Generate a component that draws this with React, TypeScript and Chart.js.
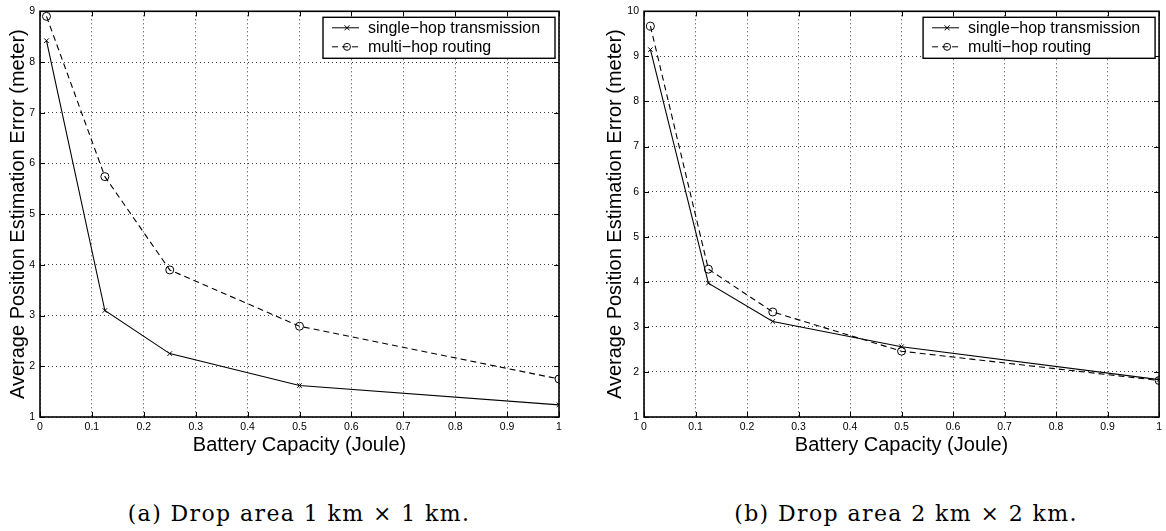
import React, { useEffect, useRef } from "react";
import { Chart, registerables } from "chart.js";

Chart.register(...registerables);

// ---------- data ----------
const batteryCapacity = [0.0125, 0.125, 0.25, 0.5, 1];
const singleHopA = [8.42, 3.1, 2.25, 1.62, 1.24];
const multiHopA = [8.9, 5.74, 3.9, 2.79, 1.75];
const singleHopB = [9.15, 3.97, 3.12, 2.56, 1.83];
const multiHopB = [9.67, 4.28, 3.33, 2.46, 1.81];

const xTicks = [0, 0.1, 0.2, 0.3, 0.4, 0.5, 0.6, 0.7, 0.8, 0.9, 1];
const yTicksA = [1, 2, 3, 4, 5, 6, 7, 8, 9];
const yTicksB = [1, 2, 3, 4, 5, 6, 7, 8, 9, 10];

const seriesLabels = ["single\u2212hop transmission", "multi\u2212hop routing"];
const xTitle = "Battery Capacity (Joule)";
const yTitle = "Average Position Estimation Error (meter)";
const captions = ["(a) Drop area 1 km \u00d7 1 km.", "(b) Drop area 2 km \u00d7 2 km."];

const SANS = "'Liberation Sans', Arial, Helvetica, sans-serif";

// draws the MATLAB-style box, inward ticks and the boxed legend
const matlabPlugin = {
  id: "matlabBox",
  afterDraw(chart: any) {
    const { ctx, chartArea } = chart;
    const { left, right, top, bottom } = chartArea;
    const xs = chart.scales.x;
    const ys = chart.scales.y;
    ctx.save();
    ctx.strokeStyle = "#000";
    ctx.lineWidth = 1;
    ctx.setLineDash([]);
    ctx.beginPath();
    xs.ticks.forEach((t: any) => {
      const px = Math.round(xs.getPixelForValue(t.value)) + 0.5;
      ctx.moveTo(px, bottom);
      ctx.lineTo(px, bottom - 5);
      ctx.moveTo(px, top);
      ctx.lineTo(px, top + 5);
    });
    ys.ticks.forEach((t: any) => {
      const py = Math.round(ys.getPixelForValue(t.value)) + 0.5;
      ctx.moveTo(left, py);
      ctx.lineTo(left + 5, py);
      ctx.moveTo(right, py);
      ctx.lineTo(right - 5, py);
    });
    ctx.stroke();
    ctx.lineWidth = 1.6;
    ctx.strokeRect(left, top, right - left, bottom - top);

    // legend
    const boxW = 232;
    const boxH = 41;
    const bx = right - 4 - boxW;
    const by = top + 6;
    ctx.fillStyle = "#fff";
    ctx.fillRect(bx, by, boxW, boxH);
    ctx.lineWidth = 1.4;
    ctx.strokeRect(bx, by, boxW, boxH);
    ctx.font = `16px ${SANS}`;
    ctx.textBaseline = "middle";
    ctx.textAlign = "left";
    chart.data.datasets.forEach((ds: any, i: number) => {
      const cy = by + 10.5 + i * 19;
      ctx.strokeStyle = "#000";
      ctx.lineWidth = 1;
      ctx.setLineDash(ds.borderDash || []);
      ctx.beginPath();
      ctx.moveTo(bx + 9, cy);
      ctx.lineTo(bx + 36, cy);
      ctx.stroke();
      ctx.setLineDash([]);
      const mx = bx + 24;
      ctx.beginPath();
      if (ds.pointStyle === "crossRot") {
        const r = 2.5;
        ctx.moveTo(mx - r, cy - r);
        ctx.lineTo(mx + r, cy + r);
        ctx.moveTo(mx - r, cy + r);
        ctx.lineTo(mx + r, cy - r);
      } else {
        ctx.arc(mx, cy, 3.5, 0, Math.PI * 2);
      }
      ctx.stroke();
      ctx.fillStyle = "#000";
      ctx.fillText(ds.label, bx + 45, cy + 0.5);
    });
    ctx.restore();
  },
};

function makeConfig(
  single: number[],
  multi: number[],
  yTicks: number[],
  yAxisWidth: number,
  yTitlePad: number,
  rightPad: number
): any {
  const tickFont = { family: SANS, size: 10.5 };
  const titleFont = { family: SANS, size: 20 };
  return {
    type: "line",
    data: {
      datasets: [
        {
          label: seriesLabels[0],
          data: batteryCapacity.map((x, i) => ({ x, y: single[i] })),
          borderColor: "#000",
          borderWidth: 1.1,
          pointStyle: "crossRot",
          pointRadius: 3.2,
          pointBorderColor: "#000",
          pointBackgroundColor: "#000",
          pointBorderWidth: 1,
          tension: 0,
          fill: false,
        },
        {
          label: seriesLabels[1],
          data: batteryCapacity.map((x, i) => ({ x, y: multi[i] })),
          borderColor: "#000",
          borderWidth: 1.1,
          borderDash: [6, 4],
          pointStyle: "circle",
          pointRadius: 4,
          pointBorderColor: "#000",
          pointBackgroundColor: "rgba(255,255,255,0)",
          pointBorderWidth: 1,
          tension: 0,
          fill: false,
        },
      ],
    },
    options: {
      responsive: false,
      animation: false,
      layout: { padding: { top: 8, right: rightPad, left: 0, bottom: 0 } },
      plugins: { legend: { display: false }, tooltip: { enabled: false } },
      scales: {
        x: {
          type: "linear",
          min: 0,
          max: 1,
          afterBuildTicks: (s: any) => {
            s.ticks = xTicks.map((v) => ({ value: v }));
          },
          afterFit: (s: any) => {
            s.height = 43;
          },
          ticks: {
            callback: (v: any) => String(v),
            font: tickFont,
            color: "#000",
            padding: 4,
            maxRotation: 0,
            autoSkip: false,
          },
          grid: { color: "rgba(0,0,0,0.75)", lineWidth: 1, drawTicks: false },
          border: { display: false, dash: [1, 3] },
          title: {
            display: true,
            text: xTitle,
            font: titleFont,
            color: "#000",
            padding: { top: 0, bottom: 3 },
          },
        },
        y: {
          type: "linear",
          min: yTicks[0],
          max: yTicks[yTicks.length - 1],
          afterBuildTicks: (s: any) => {
            s.ticks = yTicks.map((v) => ({ value: v }));
          },
          afterFit: (s: any) => {
            s.width = yAxisWidth;
          },
          ticks: {
            callback: (v: any) => String(v),
            font: tickFont,
            color: "#000",
            padding: 5,
            autoSkip: false,
          },
          grid: { color: "rgba(0,0,0,0.75)", lineWidth: 1, drawTicks: false },
          border: { display: false, dash: [1, 3] },
          title: {
            display: true,
            text: yTitle,
            font: titleFont,
            color: "#000",
            padding: { top: yTitlePad, bottom: 0 },
          },
        },
      },
    },
    plugins: [matlabPlugin],
  };
}

export default function App() {
  const refA = useRef<HTMLCanvasElement>(null);
  const refB = useRef<HTMLCanvasElement>(null);

  useEffect(() => {
    const a = new Chart(refA.current as HTMLCanvasElement, makeConfig(singleHopA, multiHopA, yTicksA, 40, 6, 16));
    const b = new Chart(refB.current as HTMLCanvasElement, makeConfig(singleHopB, multiHopB, yTicksB, 54, 13, 3));
    return () => {
      a.destroy();
      b.destroy();
    };
  }, []);

  const captionStyle: React.CSSProperties = {
    position: "absolute",
    top: 499,
    height: 30,
    lineHeight: "30px",
    textAlign: "center",
    fontFamily: "'DejaVu Serif', serif",
    fontSize: 22,
    letterSpacing: "1.4px",
    color: "#000",
    whiteSpace: "nowrap",
  };

  return (
    <div
      style={{
        position: "absolute",
        left: 0,
        top: 0,
        width: 1166,
        height: 531,
        background: "#fff",
        overflow: "hidden",
      }}
    >
      <canvas ref={refA} width={575} height={460} style={{ position: "absolute", left: 0, top: 0 }} />
      <canvas ref={refB} width={576} height={460} style={{ position: "absolute", left: 590, top: 0 }} />
      <div style={{ ...captionStyle, left: 0, width: 598 }}>{captions[0]}</div>
      <div style={{ ...captionStyle, left: 604, width: 604 }}>{captions[1]}</div>
    </div>
  );
}
